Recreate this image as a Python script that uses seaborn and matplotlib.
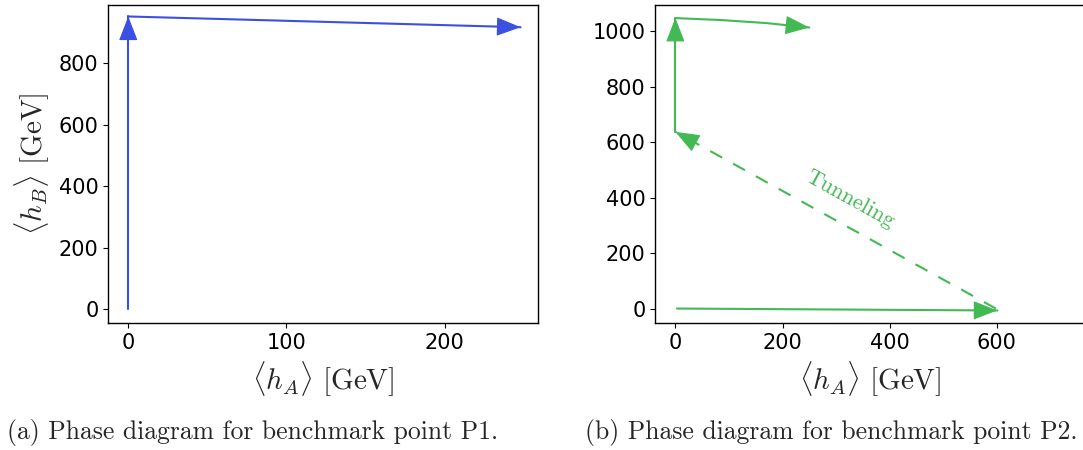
import numpy as np
import pandas as pd
import matplotlib
matplotlib.use("Agg")
import matplotlib.pyplot as plt
import seaborn as sns

# Phase-transition paths in the (<h_A>, <h_B>) plane, in GeV
p1_rise_x = [0, 0]
p1_rise_y = [0, 953]
p1_drift_x = [0, 248]
p1_drift_y = [953, 918]

p2_low_x = [3, 601]
p2_low_y = [0, -7]
p2_tunnel_x = [598, 0]
p2_tunnel_y = [0, 637]
p2_rise_x = [0, 0]
p2_rise_y = [637, 1048]
p2_top_x = [0, 85, 170, 250]
p2_top_y = [1047, 1040, 1029, 1013]

p1_xticks = [0, 100, 200]
p1_yticks = [0, 200, 400, 600, 800]
p2_xticks = [0, 200, 400, 600]
p2_yticks = [0, 200, 400, 600, 800, 1000]

captions = ["(a) Phase diagram for benchmark point P1.",
            "(b) Phase diagram for benchmark point P2."]

BLUE = "#3b4fe3"
GREEN = "#43b954"

sns.set_style("ticks")
plt.rcParams["font.family"] = ["DejaVu Sans"]
plt.rcParams["mathtext.fontset"] = "cm"
plt.rcParams["axes.edgecolor"] = "black"
plt.rcParams["xtick.color"] = "black"
plt.rcParams["ytick.color"] = "black"

DPI = 100
fig = plt.figure(figsize=(10.83, 4.5), dpi=DPI)
ax1 = fig.add_axes([0.0999, 0.282, 0.397, 0.708])
ax2 = fig.add_axes([0.6051, 0.282, 0.397, 0.708])

HEAD_LEN = 15.5   # points
HEAD_HW = 6.0     # half width, points


def draw_path(ax, xs, ys, color, dashed=False):
    df = pd.DataFrame({"x": xs, "y": ys})
    kw = dict(linestyle=(0, (6.5, 6.0))) if dashed else {}
    sns.lineplot(data=df, x="x", y="y", sort=False, estimator=None,
                 color=color, lw=1.5, ax=ax, **kw)


def draw_head(ax, xs, ys, color):
    p0 = ax.transData.transform((xs[-2], ys[-2]))
    p1 = ax.transData.transform((xs[-1], ys[-1]))
    d = (p1 - p0) / np.hypot(*(p1 - p0))
    ax.annotate("", xy=(xs[-1], ys[-1]), xycoords="data",
                xytext=(-d[0] * HEAD_LEN, -d[1] * HEAD_LEN),
                textcoords="offset points",
                arrowprops=dict(arrowstyle=f"-|>,head_length={HEAD_LEN},head_width={HEAD_HW}",
                                color=color, lw=0.8, shrinkA=0, shrinkB=0,
                                mutation_scale=1))


p1_paths = [(p1_rise_x, p1_rise_y), (p1_drift_x, p1_drift_y)]
for xs, ys in p1_paths:
    draw_path(ax1, xs, ys, BLUE)

p2_paths = [(p2_low_x, p2_low_y, False), (p2_tunnel_x, p2_tunnel_y, True),
            (p2_rise_x, p2_rise_y, False), (p2_top_x, p2_top_y, False)]
for xs, ys, dashed in p2_paths:
    draw_path(ax2, xs, ys, GREEN, dashed)

ax1.set_xlim(-12.7, 259.1)
ax1.set_ylim(-45.5, 992)
ax2.set_xlim(-37.4, 765)
ax2.set_ylim(-52.5, 1096)

for xs, ys in p1_paths:
    draw_head(ax1, xs, ys, BLUE)
for xs, ys, _ in p2_paths:
    draw_head(ax2, xs, ys, GREEN)

ax2.text(326, 393, "Tunneling", rotation=-29, rotation_mode="anchor",
         ha="center", va="center", color=GREEN, family="cmr10", fontsize=16)

for ax, xt, yt in [(ax1, p1_xticks, p1_yticks), (ax2, p2_xticks, p2_yticks)]:
    ax.set_xticks(xt)
    ax.set_yticks(yt)
    ax.tick_params(labelsize=15, length=3.5, width=0.8)
    for s in ax.spines.values():
        s.set_linewidth(1.0)
    ax.set_xlabel(r"$\langle h_A\rangle\ [\mathrm{GeV}]$", fontsize=21, labelpad=5)
    ax.set_ylabel("")

ax1.set_ylabel(r"$\langle h_B\rangle\ [\mathrm{GeV}]$", fontsize=21, labelpad=5)

fig.text(0.2336, 0.038, captions[0], ha="center", va="center",
         family="cmr10", fontsize=18.5)
fig.text(0.768, 0.038, captions[1], ha="center", va="center",
         family="cmr10", fontsize=18.5)

fig.savefig("out.png", dpi=DPI)
